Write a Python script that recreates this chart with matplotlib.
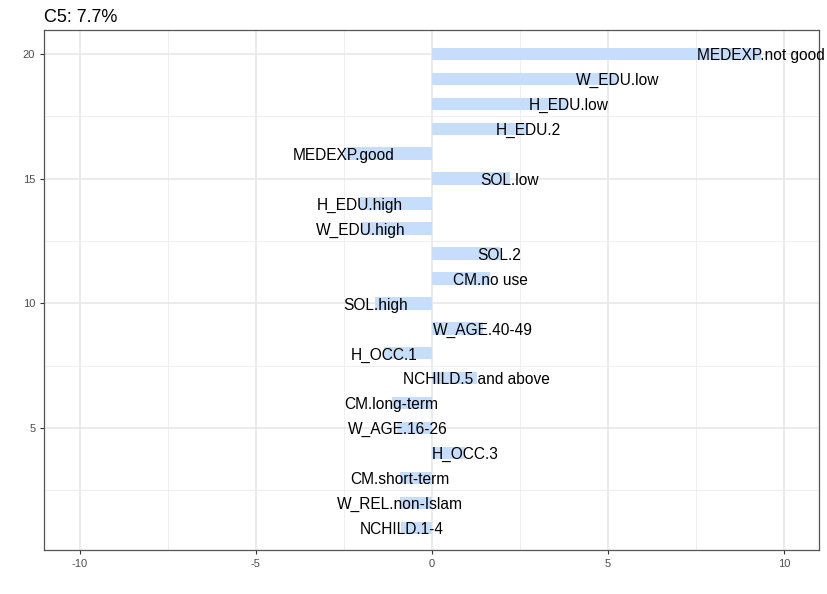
import matplotlib.pyplot as plt
import numpy as np

# variable categories from bottom (1) to top (20)
labels = ['NCHILD.1-4', 'W_REL.non-Islam', 'CM.short-term', 'H_OCC.3',
          'W_AGE.16-26', 'CM.long-term', 'NCHILD.5 and above', 'H_OCC.1',
          'W_AGE.40-49', 'SOL.high', 'CM.no use', 'SOL.2', 'W_EDU.high',
          'H_EDU.high', 'SOL.low', 'MEDEXP.good', 'H_EDU.2', 'H_EDU.low',
          'W_EDU.low', 'MEDEXP.not good']
values = [-0.86, -0.91, -0.91, 0.94,
          -0.97, -1.14, 1.28, -1.34,
          1.45, -1.6, 1.67, 1.93, -2.0,
          -2.03, 2.22, -2.5, 2.74, 3.88,
          5.27, 9.36]
title = 'C5: 7.7%'

def draw_chart(out_file):
    plt.rcParams['font.family'] = ['Liberation Sans', 'DejaVu Sans']
    plt.rcParams['axes.unicode_minus'] = False
    fig = plt.figure(figsize=(8.27, 5.94), dpi=100)
    ax = fig.add_axes([44.3 / 827, 1 - 550 / 594, (819 - 44.3) / 827, 520 / 594])
    pos = np.arange(1, len(values) + 1)
    ax.barh(pos, values, height=0.5, color='#c6defb', zorder=2)
    for y, v, lab in zip(pos, values, labels):
        # labels sit a touch below the bar centre, as in the original
        ax.text(v, y - 0.07, lab, ha='center', va='center', fontsize=11.2,
                color='black', zorder=3, clip_on=False)
    ax.set_xlim(-11, 11)
    ax.set_ylim(0.11, 20.96)
    ax.set_xticks([-10, -5, 0, 5, 10])
    ax.set_xticks([-7.5, -2.5, 2.5, 7.5], minor=True)
    ax.set_yticks([5, 10, 15, 20])
    ax.set_yticks([2.5, 7.5, 12.5, 17.5], minor=True)
    ax.grid(which='major', color='#e6e6e6', lw=1.1, zorder=0)
    ax.grid(which='minor', color='#ebebeb', lw=0.55, zorder=0)
    ax.set_axisbelow(True)
    for s in ax.spines.values():
        s.set_color('#555555')
        s.set_linewidth(0.9)
    ax.tick_params(which='major', length=3, color='#333333', labelsize=8,
                   labelcolor='#4d4d4d', width=0.8)
    ax.tick_params(which='minor', length=0)
    ax.set_title(title, loc='left', fontsize=13, pad=6)
    fig.savefig(out_file, dpi=100)

def main():
    draw_chart('out.png')

if __name__ == "__main__":
    main()
